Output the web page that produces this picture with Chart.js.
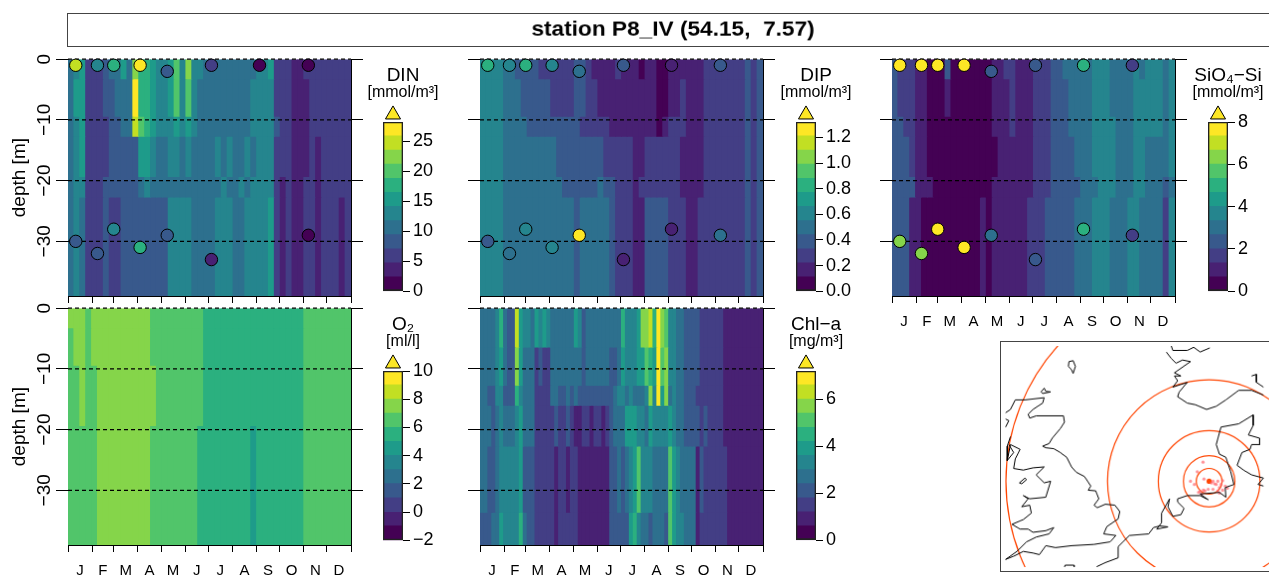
<!DOCTYPE html>
<html>
<head>
<meta charset="utf-8">
<title>station P8_IV</title>
<script src="https://cdn.jsdelivr.net/npm/chart.js@4"></script>
<style>
  html, body { margin: 0; padding: 0; background: #fff; overflow: hidden; width: 1269px; height: 576px; }
  canvas { position: absolute; }
  .boxed { border: 1px solid #444; }
</style>
</head>
<body>
<script>
// viridis, 12 levels
const palette = ["#440154", "#482173", "#433E85", "#38598C", "#2D708E", "#25858E", "#1E9B8A", "#2BB07F", "#51C56A", "#85D54A", "#C2DF23", "#FDE725"];

const monthLabels = ["J", "F", "M", "A", "M", "J", "J", "A", "S", "O", "N", "D"];
const monthStarts = [0, 31, 59, 90, 120, 151, 181, 212, 243, 273, 304, 334, 365];
const depthTicks = [0, -10, -20, -30];

// depth band edges (m) of the stored columns
const nutrientEdges = [0, 3.2, 9.4, 12.7, 19.3, 22.7, 39];
const oxygenEdges = [0, 3.2, 9.4, 19.3, 26.4, 39];
const chlEdges = [0, 6.4, 12.7, 16, 22.7, 33.6, 39];

// DIN columns per band
const din0 = [11,13,15,6,6,6, 8,11,11,15,11,22, 18,18,15,13,13,15, 20,13,22,13,13,11, 11,11,11,11,11,11, 11,11,13,13,15,6, 6,6,4,4,6,6, 6,6,6,6,6,6];
const din1 = [11,15,15,6,6,6, 8,8,11,11,11,27, 18,18,15,13,13,15, 20,13,20,13,11,11, 11,11,11,11,11,11, 11,13,13,13,13,6, 6,6,4,4,4,6, 6,6,6,6,6,6];
const din2 = [11,13,15,6,6,6, 6,8,8,11,11,25, 20,18,15,13,13,13, 15,13,15,13,11,11, 11,11,11,11,11,11, 11,13,13,13,13,8, 6,6,4,4,4,6, 6,6,6,6,6,6];
const din3 = [11,13,15,6,6,6, 6,8,8,8,8,8, 15,15,13,11,11,13, 13,11,13,11,11,11, 11,13,11,13,11,11, 13,11,13,13,13,6, 6,6,4,4,4,6, 4,6,6,6,6,6];
const din4 = [11,13,13,6,6,6, 8,8,8,8,8,8, 11,13,11,11,11,11, 11,11,11,11,11,11, 11,11,13,11,11,13, 11,13,13,13,13,6, 4,6,4,4,6,6, 4,6,6,6,6,6];
const din5 = [11,13,11,6,6,6, 8,6,6,8,8,8, 8,8,8,8,8,13, 13,13,13,11,11,11, 11,13,13,13,11,11, 13,13,13,13,15,6, 4,6,4,4,6,6, 4,6,6,6,4,6];

// DIP columns per band
const dip0 = [.6,.6,.6,.6,.49,.49, .38,.38,.38,.38,.27,.27, .27,.27,.27,.27,.38,.38, .27,.16,.16,.16,.16,.27, .16,.16,.16,.05,.16,.16, .05,.05,.16,.16,.16,.16, .16,.16,.27,.27,.27,.27, .27,.27,.27,.38,.27,.38];
const dip1 = [.6,.6,.6,.6,.49,.49, .49,.38,.38,.38,.38,.38, .27,.27,.27,.27,.38,.38, .27,.27,.16,.16,.16,.16, .16,.16,.16,.16,.16,.16, .05,.05,.16,.16,.27,.16, .16,.16,.27,.27,.27,.27, .27,.27,.27,.38,.27,.38];
const dip2 = [.6,.6,.6,.6,.49,.49, .49,.49,.38,.38,.38,.38, .38,.38,.38,.38,.38,.27, .27,.27,.27,.27,.16,.16, .16,.16,.16,.16,.16,.16, .05,.16,.27,.27,.27,.16, .16,.16,.27,.27,.27,.27, .27,.27,.27,.38,.27,.38];
const dip3 = [.6,.6,.6,.6,.49,.49, .49,.49,.49,.49,.49,.49, .49,.38,.38,.38,.38,.38, .38,.38,.38,.27,.27,.27, .27,.27,.16,.16,.27,.27, .27,.27,.27,.27,.16,.16, .16,.16,.27,.27,.27,.27, .27,.27,.27,.38,.27,.38];
const dip4 = [.6,.6,.6,.6,.49,.49, .49,.49,.49,.49,.49,.49, .49,.49,.38,.38,.38,.38, .38,.38,.49,.38,.38,.27, .27,.27,.16,.27,.27,.27, .27,.27,.27,.27,.16,.16, .16,.16,.27,.27,.27,.27, .27,.27,.27,.38,.27,.38];
const dip5 = [.6,.6,.6,.6,.49,.49, .49,.49,.49,.49,.49,.49, .49,.49,.49,.49,.38,.49, .49,.49,.49,.49,.38,.27, .27,.27,.16,.16,.38,.38, .38,.38,.27,.27,.27,.16, .16,.27,.27,.27,.27,.27, .27,.27,.27,.38,.27,.38];

// SiO4-Si columns per band
const sil0 = [2.3,1.7,1.7,1.7,1,1, .3,.3,.3,2.3,.3,.3, .3,.3,.3,.3,.3,1, 1,1.7,1.7,1,1,1, 1.7,1.7,1.7,2.3,2.3,3, 3,3,3,3,3.7,3.7, 3.7,3,3,3,3,3.7, 3,3.7,3.7,3.7,3,3.7];
const sil1 = [2.3,1.7,1.7,1.7,1,1, .3,.3,.3,1,.3,.3, .3,.3,.3,.3,.3,1, 1,1,1.7,1,1,1, 1.7,1.7,1.7,2.3,2.3,2.3, 3,3,3,3,3.7,3.7, 3.7,3,3,3,3,3.7, 3.7,3.7,3.7,3.7,3,3.7];
const sil2 = [2.3,2.3,1.7,1.7,1,1, .3,.3,.3,.3,.3,.3, .3,.3,.3,.3,.3,1, 1,1,1.7,1,1,1, 1.7,1.7,1.7,2.3,2.3,2.3, 3,3,3,3,3.7,3.7, 3.7,3.7,3,3,3,3.7, 3.7,3.7,3.7,3.7,3,3.7];
const sil3 = [2.3,2.3,2.3,1.7,1,1, .3,.3,.3,.3,.3,.3, .3,.3,.3,.3,.3,.3, 1,1,1,1,1,1, 1.7,1.7,1.7,2.3,2.3,2.3, 2.3,3,3,3,3.7,3.7, 3.7,3.7,3,3,3,3.7, 3.7,3,3,3,3,3.7];
const sil4 = [2.3,2.3,2.3,2.3,1,1, 1,.3,.3,.3,.3,.3, .3,.3,.3,.3,.3,1, 1,1,1,1,1,1, 1.7,1.7,1.7,2.3,2.3,2.3, 2.3,2.3,3,3,3,3.7, 3.7,3.7,3,3,3,3.7, 3.7,3,3,3,2.3,3];
const sil5 = [2.3,2.3,2.3,1,1,.3, .3,.3,.3,.3,.3,.3, .3,.3,.3,1,.3,1, 1,1,1,1,1,1.7, 1.7,1.7,2.3,2.3,2.3,2.3, 2.3,3,3,3,3.7,3.7, 3.7,3,3,3,3.7,3.7, 3,3,3,3,1.7,3.7];

// O2 columns per band
const oxy0 = [7.5,7.5,7.5,6.5,7.5,7.5, 7.5,7.5,7.5,7.5,7.5,7.5, 7.5,7.5,6.5,6.5,6.5,6.5, 6.5,6.5,6.5,6.5,6.5,5.5, 5.5,5.5,5.5,5.5,5.5,5.5, 5.5,5.5,5.5,5.5,5.5,5.5, 5.5,5.5,5.5,5.5,6.5,6.5, 6.5,6.5,6.5,6.5,6.5,6.5];
const oxy1 = [6.5,7.5,7.5,6.5,7.5,7.5, 7.5,7.5,7.5,7.5,7.5,7.5, 7.5,7.5,6.5,6.5,6.5,6.5, 6.5,6.5,6.5,6.5,6.5,5.5, 5.5,5.5,5.5,5.5,5.5,5.5, 5.5,5.5,5.5,5.5,5.5,5.5, 5.5,5.5,5.5,5.5,6.5,6.5, 6.5,6.5,6.5,6.5,6.5,6.5];
const oxy2 = [6.5,6.5,7.5,6.5,6.5,7.5, 7.5,7.5,7.5,7.5,7.5,7.5, 7.5,7.5,7.5,6.5,6.5,6.5, 6.5,6.5,6.5,6.5,6.5,5.5, 5.5,5.5,5.5,5.5,5.5,5.5, 5.5,5.5,5.5,5.5,5.5,5.5, 5.5,5.5,5.5,5.5,6.5,6.5, 6.5,6.5,6.5,6.5,6.5,6.5];
const oxy3 = [6.5,6.5,6.5,6.5,6.5,7.5, 7.5,7.5,7.5,7.5,7.5,7.5, 7.5,7.5,6.5,6.5,6.5,6.5, 6.5,6.5,6.5,6.5,5.5,5.5, 5.5,5.5,5.5,5.5,5.5,5.5, 5.5,4.5,5.5,5.5,5.5,5.5, 5.5,5.5,5.5,5.5,6.5,6.5, 6.5,6.5,6.5,6.5,6.5,6.5];
const oxy4 = [6.5,6.5,6.5,6.5,6.5,7.5, 7.5,7.5,7.5,7.5,7.5,7.5, 7.5,7.5,6.5,6.5,6.5,6.5, 6.5,6.5,6.5,6.5,5.5,5.5, 5.5,5.5,5.5,5.5,5.5,5.5, 5.5,4.5,5.5,5.5,5.5,5.5, 5.5,5.5,5.5,5.5,6.5,6.5, 6.5,6.5,6.5,6.5,6.5,6.5];

// Chl-a columns per band
const chl0 = [2.7,2.7,2.7,2.7,3.3,4.5, 2.7,2.1,2.1,6.3,3.9,3.3, 3.3,2.7,3.9,3.3,3.9,3.3, 2.7,2.7,2.7,2.7,2.7,2.7, 3.9,3.3,2.1,2.7,2.7,2.7, 2.7,2.7,2.7,2.7,2.7,2.7, 4.5,3.3,3.3,3.3,3.9,5.7, 5.7,6.3,4.5,6.9,5.7,5.1, 3.3,3.3,2.7,2.7,2.1,2.1, 2.1,2.1,1.5,1.5,1.5,1.5, 1.5,1.5,.9,.9,.9,.9, .9,.9,.9,.9,.9,.9];
const chl1 = [2.7,2.7,2.7,2.7,3.3,3.9, 2.7,2.1,2.1,5.7,3.9,2.7, 2.7,2.7,1.5,2.1,1.5,1.5, 2.7,2.7,2.7,2.7,2.7,2.7, 2.7,2.7,2.1,2.7,2.7,2.7, 2.7,2.7,2.7,2.1,2.1,2.7, 3.9,3.3,3.3,3.3,3.9,3.9, 5.1,4.5,3.9,6.9,5.1,5.7, 3.3,3.3,2.7,2.7,2.1,2.1, 2.1,2.1,1.5,1.5,1.5,1.5, 1.5,1.5,.9,.9,.9,.9, .9,.9,.9,.9,.9,.9];
const chl2 = [2.7,2.7,2.1,2.1,3.3,3.3, 2.1,2.1,2.1,4.5,3.3,2.7, 2.7,2.7,1.5,1.5,1.5,1.5, 2.7,2.7,2.1,2.1,2.7,2.1, 2.7,2.1,2.1,2.1,2.1,2.1, 2.1,2.1,2.1,2.1,2.7,3.3, 3.3,2.7,3.3,2.7,2.7,2.7, 3.3,5.7,3.3,6.9,3.9,5.7, 2.7,3.3,2.7,2.7,2.1,2.1, 2.1,1.5,1.5,1.5,1.5,1.5, 1.5,1.5,.9,.9,.9,.9, .9,.9,.9,.9,.9,.9];
const chl3 = [2.7,2.7,2.7,2.1,2.7,3.3, 2.7,2.7,2.7,3.3,3.9,2.7, 2.7,2.7,1.5,1.5,1.5,1.5, 1.5,2.1,1.5,1.5,2.1,1.5, .9,.9,1.5,1.5,.9,1.5, 1.5,.9,1.5,2.1,2.7,2.7, 2.7,3.9,3.9,3.9,3.3,3.3, 2.7,3.9,3.3,3.3,3.3,3.3, 3.9,3.3,2.7,2.7,2.1,2.1, 2.1,2.1,1.5,2.1,1.5,1.5, 1.5,1.5,.9,.9,.9,.9, .9,.9,.9,.9,.9,.9];
const chl4 = [2.7,2.7,2.1,2.1,2.7,3.3, 3.3,3.3,3.3,3.3,3.9,2.1, 2.1,2.1,1.5,1.5,1.5,1.5, 1.5,.9,1.5,1.5,.9,1.5, 1.5,.9,.9,.9,.9,.9, .9,.9,.9,2.1,2.1,2.7, 2.1,2.7,3.3,3.9,5.1,3.3, 3.3,3.3,2.7,2.7,2.7,2.7, 5.1,3.9,3.3,2.7,2.7,2.7, 2.7,.9,2.1,1.5,1.5,1.5, 1.5,1.5,1.5,.9,.9,.9, .9,.9,.9,.9,.9,.9];
const chl5 = [2.1,2.1,2.1,2.7,2.7,3.9, 3.3,3.3,3.3,3.3,4.5,2.7, 2.1,2.1,1.5,1.5,1.5,1.5, 1.5,.9,1.5,1.5,1.5,1.5, 1.5,.9,.9,.9,.9,.9, .9,.9,.9,2.1,2.1,2.1, 2.1,2.1,3.9,4.5,3.3,2.7, 2.7,2.1,2.7,2.7,2.7,2.1, 5.1,3.9,3.3,3.3,2.7,2.7, 2.7,.9,1.5,1.5,1.5,1.5, 1.5,1.5,1.5,.9,.9,.9, .9,.9,.9,.9,.9,.9];

// bottle samples: day of year, depth, value
const sampleDays = [10, 38, 59, 93, 128, 185, 247, 310];
const surfaceDepths = [-1, -1, -1, -1, -2, -1, -1, -1];
const bottomDepths = [-30, -32, -28, -31, -29, -33, -28, -29];
const dinSurface = [25, 14, 18, 27, 8, 5, 1, 1];
const dinBottom = [8, 8, 13, 18, 8, 4, null, 1];
const dinBottomDepths = [-30, -32, -28, -31, -29, -33, null, -29];
const dipSurface = [.82, .6, .82, .6, .49, .33, .16, .38];
const dipBottom = [.42, .49, .6, .6, 1.26, .16, .16, .49];
const silSurface = [7.7, 7.7, 7.7, 7.7, 2.3, 2.3, 5, 1.7];
const silBottom = [6.3, 6.3, 7.7, 7.7, 3, 2.3, 5, 1.7];

// colour bar ranges and ticks
const dinTicks = [0, 5, 10, 15, 20, 25];
const dipTicks = [0, 0.2, 0.4, 0.6, 0.8, 1.0, 1.2];
const silTicks = [0, 2, 4, 6, 8];
const oxyTicks = [-2, 0, 2, 4, 6, 8, 10];
const chlTicks = [0, 2, 4, 6];

// map, in map grid units
const coastEast = [[318,728],[345,715],[385,700],[385,665],[420,630],[480,625],[495,605],[515,600],[540,603],[505,610],[520,590],[520,560],[545,515],[540,540],[555,570],[580,565],[590,545],[570,525],[570,515],[600,505],[640,505],[665,518],[640,500],[700,495],[720,510],[718,480],[745,470],[735,430],[720,385],[700,375],[690,345],[705,290],[760,280],[805,252],[805,285],[790,315],[825,325],[825,345],[800,345],[795,360],[770,370],[755,410],[775,425],[800,440],[837,450],[820,470],[837,475]];
const coastBritainEast = [[35,245],[50,235],[65,205],[95,205],[155,198],[150,215],[120,235],[105,250],[110,262],[130,255],[215,255],[218,275],[205,295],[180,325],[170,342],[150,350],[160,355],[185,358],[205,370],[225,385],[240,415],[255,432],[280,445],[300,475],[292,488],[315,490],[325,515],[310,535],[320,543],[345,532],[375,535],[390,555],[385,578],[350,602],[340,625],[378,630],[360,650],[310,658],[240,662],[190,668],[160,662],[140,690],[120,685],[90,680],[60,695],[35,705]];
const coastBritainWest = [[55,595],[80,610],[105,610],[120,620],[160,615],[185,605],[170,625],[130,635],[100,650],[70,680],[35,705]];
const coastWales = [[55,595],[90,580],[115,560],[110,535],[85,540],[105,515],[90,505],[110,515],[160,510],[175,460],[155,465],[130,440],[155,415],[120,418],[90,425],[60,420],[65,390],[80,360],[50,345],[40,395]];
const coastIreland = [[50,320],[40,350],[40,395],[60,370],[45,345]];
const coastHebrides = [[35,265],[45,270],[35,290]];
const coastNorway = [[535,55],[550,75],[565,90],[585,80],[610,85],[560,120],[580,130],[560,130],[570,145],[555,165],[600,150],[575,180],[570,195],[600,215],[625,220],[660,235],[690,225],[720,205],[760,175],[800,175],[837,190]];
const coastNorwayTop = [[550,35],[555,50],[600,50],[620,40],[640,55],[670,42]];
const coastSweden = [[800,130],[815,125],[815,150],[837,165]];
const islandMan = [[78,465],[95,450],[100,455],[85,468],[78,465]];
const islandShetland = [[232,85],[245,82],[252,100],[245,122],[240,110],[230,100],[232,85]];
const islandOrkney = [[145,180],[155,168],[160,178],[175,180],[150,185],[145,180]];
const islandSouth = [[218,730],[220,723],[248,723],[248,730]];
const coastlines = [coastEast, coastBritainEast, coastBritainWest, coastWales, coastIreland, coastHebrides, coastNorway, coastNorwayTop, coastSweden, islandMan, islandShetland, islandOrkney, islandSouth];
const trackX = [649,631,610,622,652,680,695,710,690,705,718,700,665,650,640,680,695,710,725,700,645,635,655,675,685];
const trackY = [400,430,460,470,453,460,460,458,470,470,475,480,485,488,492,485,490,488,482,497,500,495,490,465,468];
const stationX = [668];
const stationY = [460];
const ringRadii = [40, 80, 158, 316, 632];

Chart.defaults.font.family = "'Liberation Sans', Arial, sans-serif";
Chart.defaults.color = "#000";
Chart.defaults.animation = false;

function addCanvas(left, top, width, height, cls) {
  const c = document.createElement("canvas");
  c.width = width;
  c.height = height;
  c.style.left = left + "px";
  c.style.top = top + "px";
  c.style.width = width + "px";
  c.style.height = height + "px";
  if (cls) c.className = cls;
  document.body.appendChild(c);
  return c;
}

function levelColor(v, lo, hi) {
  const i = Math.floor((v - lo) / (hi - lo) * palette.length);
  return palette[Math.max(0, Math.min(palette.length - 1, i))];
}

function minusSign(v) {
  return String(v).replace("-", "\u2212");
}

function setTicks(list) {
  return function (axis) {
    axis.ticks = list.map((value) => ({ value }));
  };
}

// one depth/time section: depth bands, dashed depth lines, bottle points
function sectionPanel(left, top, opts) {
  const canvas = addCanvas(left - 60, top - 10, 60 + 283 + 13, 10 + 237 + 36);
  const labels = opts.bands[0].map((_, i) => i);
  const datasets = [];

  opts.bands.forEach((band, b) => {
    datasets.push({
      type: "bar",
      order: 3,
      xAxisID: "x",
      yAxisID: "y",
      grouped: false,
      barPercentage: 1,
      categoryPercentage: 1,
      borderWidth: 0,
      inflateAmount: 0.5,
      data: band.map(() => [-opts.edges[b], -opts.edges[b + 1]]),
      backgroundColor: band.map((v) => levelColor(v, opts.lo, opts.hi)),
    });
  });

  depthTicks.forEach((d) => {
    datasets.push({
      type: "line",
      order: 2,
      xAxisID: "xm",
      yAxisID: "y",
      borderColor: "#000",
      borderWidth: 1.2,
      borderDash: [4, 3],
      pointRadius: 0,
      clip: false,
      data: [{ x: 0, y: d }, { x: 365, y: d }],
    });
  });

  (opts.samples || []).forEach((s) => {
    const pts = sampleDays.map((day, i) => ({ x: day, y: s.depths[i], v: s.values[i] }))
      .filter((p) => p.v !== null);
    datasets.push({
      type: "scatter",
      order: 1,
      xAxisID: "xm",
      yAxisID: "y",
      clip: false,
      pointRadius: 6.2,
      pointBorderWidth: 1,
      pointBorderColor: "#000",
      pointBackgroundColor: pts.map((p) => levelColor(p.v, opts.lo, opts.hi)),
      data: pts,
    });
  });

  const midMonths = monthLabels.map((_, i) => (monthStarts[i] + monthStarts[i + 1]) / 2);
  const monthTicks = monthStarts.concat(midMonths);

  new Chart(canvas, {
    type: "bar",
    data: { labels, datasets },
    options: {
      responsive: false,
      layout: { padding: { top: 10, left: 0, right: 0, bottom: 0 } },
      plugins: { legend: { display: false }, tooltip: { enabled: false } },
      scales: {
        x: { type: "category", display: false, offset: true },
        xm: {
          type: "linear",
          position: "bottom",
          offset: false,
          min: 0,
          max: 365,
          afterBuildTicks: setTicks(monthTicks),
          afterFit: (s) => { s.height = 36; },
          border: { color: "#000", width: 1 },
          grid: {
            offset: false,
            drawOnChartArea: false,
            tickLength: 7,
            tickColor: (ctx) => (monthStarts.includes(ctx.tick && ctx.tick.value) ? "#000" : "rgba(0,0,0,0)"),
          },
          ticks: {
            autoSkip: false,
            maxRotation: 0,
            padding: 10,
            font: { size: 15 },
            callback: (v) => {
              const i = midMonths.indexOf(v);
              return opts.months && i >= 0 ? monthLabels[i] : "";
            },
          },
        },
        y: {
          type: "linear",
          position: "left",
          min: -39,
          max: 0,
          afterBuildTicks: setTicks(depthTicks),
          afterFit: (s) => { s.width = 60; },
          border: { color: "#000", width: 1 },
          title: { display: !!opts.depthTitle, text: "depth [m]", font: { size: 19 }, padding: { top: 0, bottom: 0 } },
          grid: { drawOnChartArea: false, tickLength: 12, tickColor: "#000" },
          ticks: {
            minRotation: 90,
            maxRotation: 90,
            crossAlign: "center",
            autoSkip: false,
            padding: -5,
            font: { size: 19 },
            callback: (v) => (opts.depthTitle ? minusSign(v) : ""),
          },
        },
        yr: {
          type: "linear",
          position: "right",
          min: -39,
          max: 0,
          afterBuildTicks: setTicks(depthTicks),
          afterFit: (s) => { s.width = 13; },
          border: { color: "#000", width: 1 },
          grid: { drawOnChartArea: false, tickLength: 12, tickColor: "#000" },
          ticks: { callback: () => "" },
        },
      },
    },
  });
}

// variable name and unit above a colour bar, centred on the bar's right edge
function barTitle(left, top, title, unit) {
  new Chart(addCanvas(left + 20 - 60, top - 62, 120, 45), {
    type: "scatter",
    data: { datasets: [] },
    options: {
      responsive: false,
      plugins: {
        legend: { display: false },
        tooltip: { enabled: false },
        title: { display: true, text: title, font: { size: 19, weight: "normal", lineHeight: 1.2 }, padding: { top: 4, bottom: -4.3 } },
        subtitle: { display: true, text: unit, font: { size: 16, lineHeight: 1.2 }, padding: { top: 0, bottom: 0 } },
      },
      scales: { x: { display: false }, y: { display: false } },
    },
  });
}

// colour bar with an upper "extend" triangle
function colorBar(left, top, opts) {
  barTitle(left, top, opts.title, opts.unit);
  const canvas = addCanvas(left - 10, top - 18, 80, 201);
  const step = (opts.hi - opts.lo) / palette.length;
  const datasets = palette.map((col, i) => ({
    type: "bar",
    order: 3,
    grouped: false,
    barPercentage: 1,
    categoryPercentage: 1,
    borderWidth: 0,
    inflateAmount: 0.5,
    backgroundColor: col,
    data: [[opts.lo + i * step, opts.lo + (i + 1) * step]],
  }));
  datasets.push({
    type: "bar",
    order: 2,
    grouped: false,
    barPercentage: 1,
    categoryPercentage: 1,
    borderWidth: 1,
    borderSkipped: false,
    borderColor: "#222",
    backgroundColor: "rgba(0,0,0,0)",
    data: [[opts.lo, opts.hi]],
  });
  datasets.push({
    type: "line",
    order: 1,
    clip: false,
    pointStyle: "triangle",
    pointRadius: 8.7,
    pointBorderWidth: 1,
    pointBorderColor: "#000",
    pointBackgroundColor: palette[11],
    data: [opts.hi + (opts.hi - opts.lo) * 0.0436],
  });

  new Chart(canvas, {
    type: "bar",
    data: { labels: ["bar"], datasets },
    options: {
      responsive: false,
      layout: { padding: { left: 10, right: 0, top: 18, bottom: 0 } },
      plugins: { legend: { display: false }, tooltip: { enabled: false } },
      scales: {
        x: { display: false },
        y: {
          position: "right",
          min: opts.lo,
          max: opts.hi,
          afterBuildTicks: setTicks(opts.ticks),
          afterFit: (s) => { s.width = 50; },
          border: { display: false },
          grid: { drawOnChartArea: false, tickLength: 7, tickColor: "#000" },
          ticks: {
            autoSkip: false,
            padding: 3,
            font: { size: 18 },
            callback: (v) => minusSign(opts.digits ? v.toFixed(opts.digits) : v),
          },
        },
      },
    },
  });
}

function titleBox() {
  new Chart(addCanvas(67, 13, 1212, 34, "boxed"), {
    type: "scatter",
    data: { datasets: [] },
    options: {
      responsive: false,
      plugins: {
        legend: { display: false },
        tooltip: { enabled: false },
        title: {
          display: true,
          text: "station P8_IV (54.15,  7.57)",
          font: { size: 22.7, weight: "bold" },
          padding: { top: 3, bottom: 0 },
        },
      },
      scales: { x: { display: false }, y: { display: false } },
    },
  });
}

function stationMap() {
  const datasets = coastlines.map((line) => ({
    type: "line",
    borderColor: "#000",
    borderWidth: 1,
    pointRadius: 0,
    tension: 0,
    data: line.map((p) => ({ x: p[0], y: p[1] })),
  }));
  datasets.push({
    type: "scatter",
    pointRadius: 1.6,
    pointBorderWidth: 0,
    pointBackgroundColor: "rgba(255,90,100,0.65)",
    data: trackX.map((x, i) => ({ x, y: trackY[i] })),
  });
  datasets.push({
    type: "scatter",
    pointRadius: 2.6,
    pointBorderWidth: 0,
    pointBackgroundColor: "#FF4500",
    data: stationX.map((x, i) => ({ x, y: stationY[i] })),
  });
  // range rings, radius given in map units and converted by the scale
  datasets.push({
    type: "scatter",
    pointBackgroundColor: "rgba(0,0,0,0)",
    pointBorderColor: "#FF4500",
    pointBorderWidth: 1.2,
    pointRadius: (ctx) => {
      const xs = ctx.chart.scales.x;
      return xs.getPixelForValue(ringRadii[ctx.dataIndex] + 33) - xs.getPixelForValue(33);
    },
    data: ringRadii.map(() => ({ x: stationX[0], y: stationY[0] })),
  });

  new Chart(addCanvas(1000, 341, 280, 231, "boxed"), {
    type: "scatter",
    data: { datasets },
    options: {
      responsive: false,
      plugins: { legend: { display: false }, tooltip: { enabled: false } },
      scales: {
        x: { type: "linear", display: false, min: 33, max: 873 },
        y: { type: "linear", display: false, min: 36, max: 729, reverse: true },
      },
    },
  });
}

titleBox();

sectionPanel(68, 59, {
  bands: [din0, din1, din2, din3, din4, din5], edges: nutrientEdges, lo: 0, hi: 28.2, depthTitle: true,
  samples: [{ depths: surfaceDepths, values: dinSurface }, { depths: dinBottomDepths, values: dinBottom }],
});
sectionPanel(480, 59, {
  bands: [dip0, dip1, dip2, dip3, dip4, dip5], edges: nutrientEdges, lo: 0, hi: 1.32,
  samples: [{ depths: surfaceDepths, values: dipSurface }, { depths: bottomDepths, values: dipBottom }],
});
sectionPanel(892, 59, {
  bands: [sil0, sil1, sil2, sil3, sil4, sil5], edges: nutrientEdges, lo: 0, hi: 8, months: true,
  samples: [{ depths: surfaceDepths, values: silSurface }, { depths: bottomDepths, values: silBottom }],
});
sectionPanel(68, 308, {
  bands: [oxy0, oxy1, oxy2, oxy3, oxy4], edges: oxygenEdges, lo: -2, hi: 10, depthTitle: true, months: true,
});
sectionPanel(480, 308, {
  bands: [chl0, chl1, chl2, chl3, chl4, chl5], edges: chlEdges, lo: 0, hi: 7.2, months: true,
});

colorBar(383, 122, { title: "DIN", unit: "[mmol/m\u00B3]", lo: 0, hi: 28.2, ticks: dinTicks });
colorBar(796, 122, { title: "DIP", unit: "[mmol/m\u00B3]", lo: 0, hi: 1.32, ticks: dipTicks, digits: 1 });
colorBar(1208, 122, { title: "SiO\u2084\u2212Si", unit: "[mmol/m\u00B3]", lo: 0, hi: 8, ticks: silTicks });
colorBar(383, 371, { title: "O\u2082", unit: "[ml/l]", lo: -2, hi: 10, ticks: oxyTicks });
colorBar(796, 371, { title: "Chl\u2212a", unit: "[mg/m\u00B3]", lo: 0, hi: 7.2, ticks: chlTicks });

stationMap();
</script>
</body>
</html>
